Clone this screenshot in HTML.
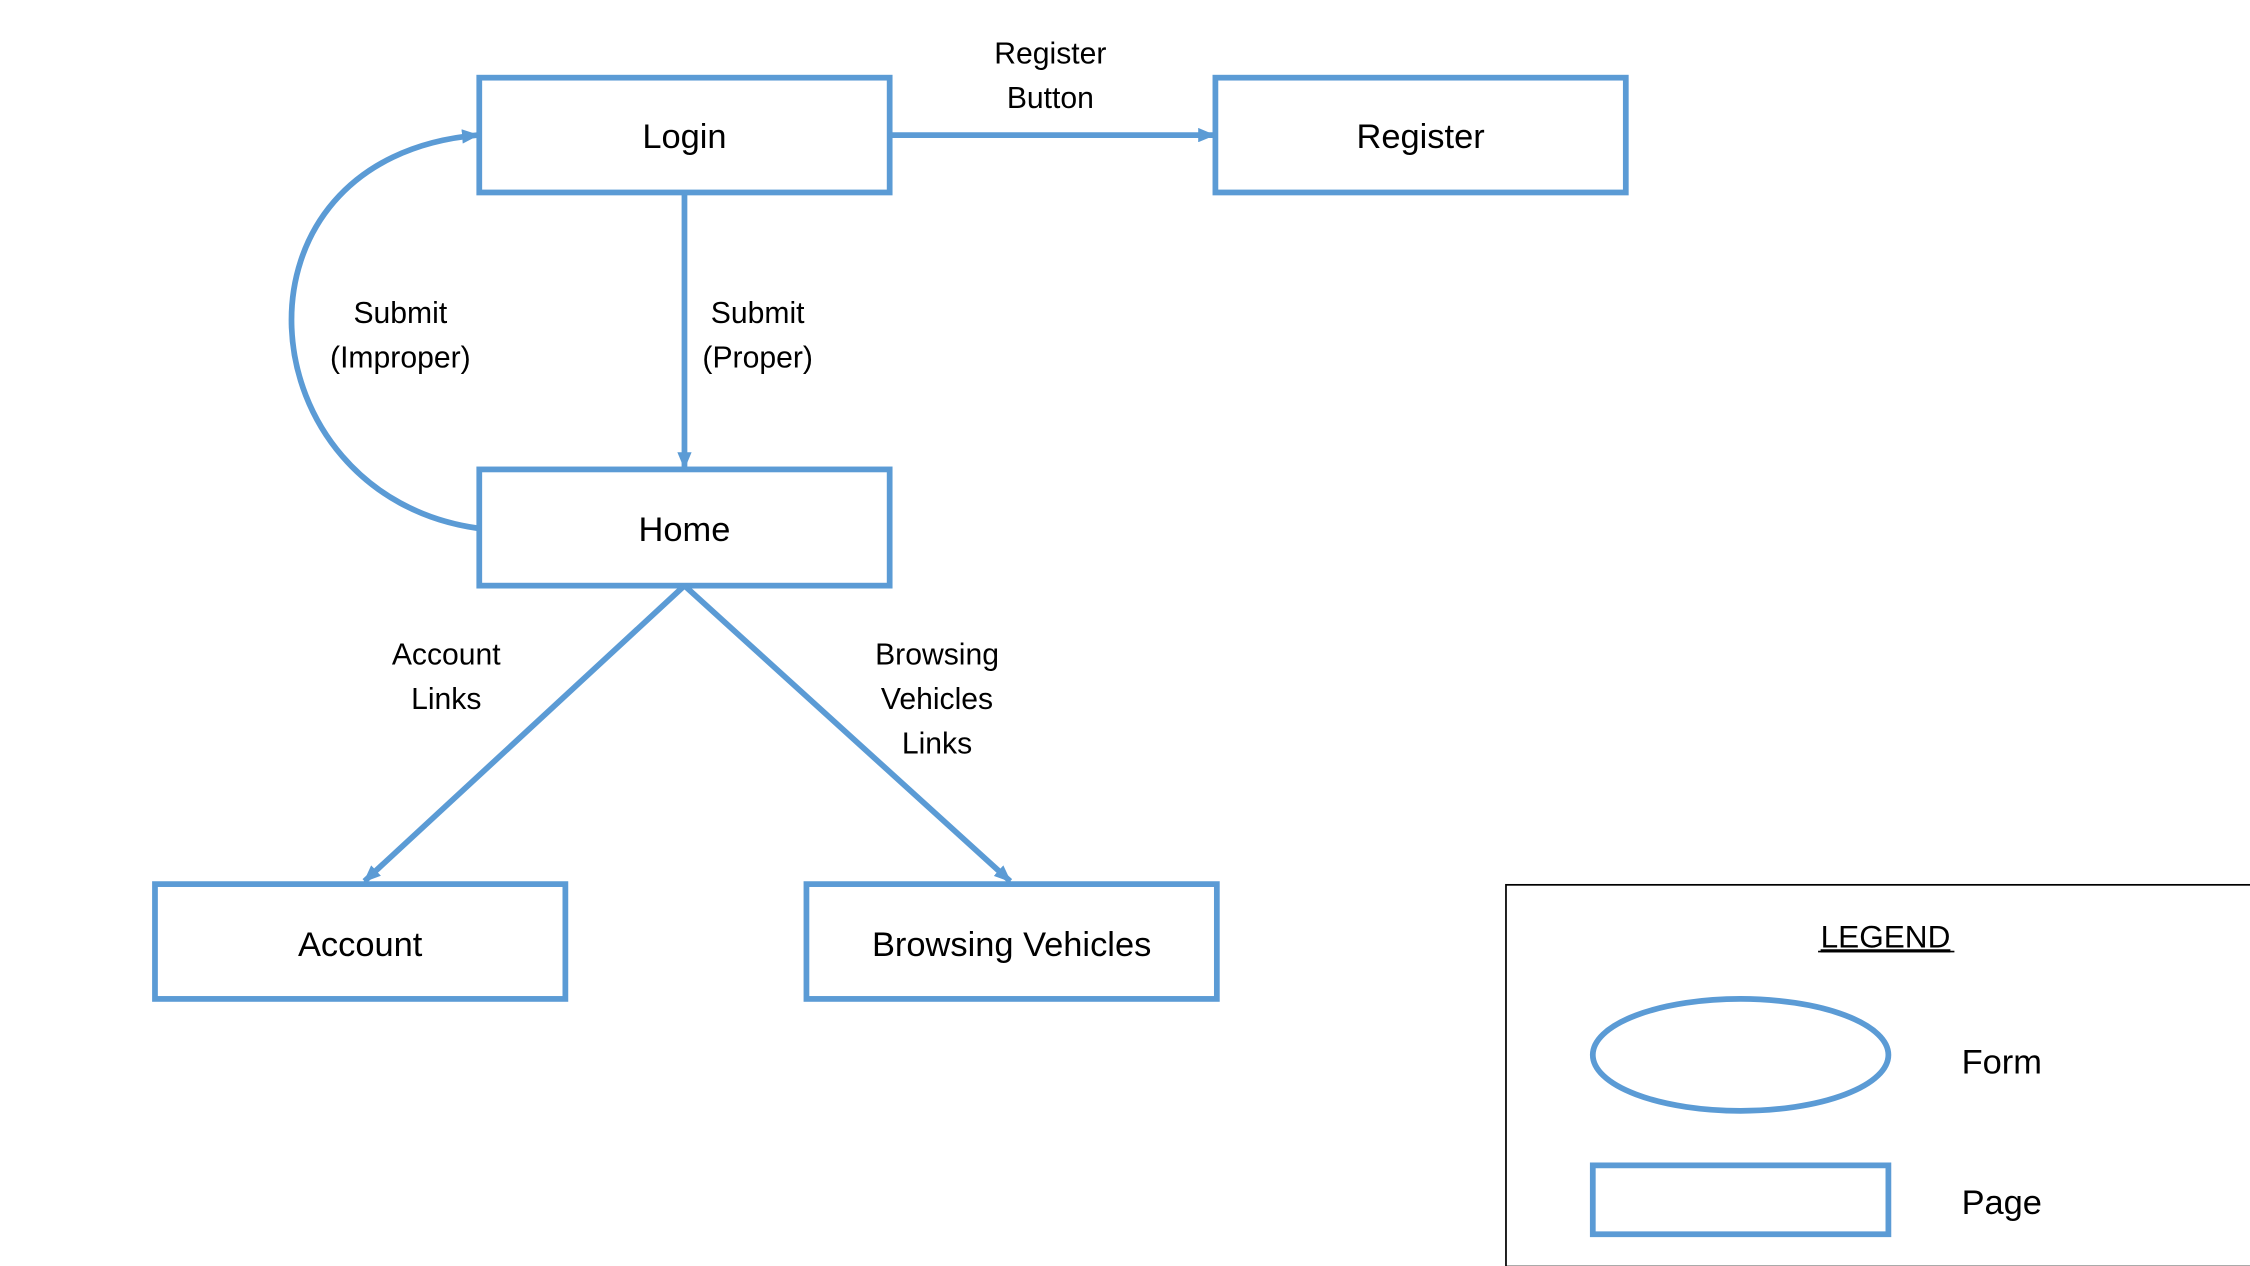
<!DOCTYPE html>
<html><head><meta charset="utf-8"><style>
html,body{margin:0;padding:0;background:#fff;}
svg{display:block;}
text{font-family:"Liberation Sans",sans-serif;fill:#000;}
</style></head><body>
<svg width="2250" height="1266" viewBox="0 0 1568 882" xmlns="http://www.w3.org/2000/svg">
<defs>
<marker id="a" markerWidth="12" markerHeight="10" refX="11" refY="5" orient="auto" markerUnits="userSpaceOnUse">
<path d="M0,0 L12,5 L0,10 Z" fill="#5B9BD5"/>
</marker>
</defs>
<rect width="1568" height="882" fill="#fff"/>
<g fill="none" stroke="#5B9BD5" stroke-width="4">
<rect x="334" y="54" width="286" height="80"/>
<rect x="847" y="54" width="286" height="80"/>
<rect x="334" y="327" width="286" height="81"/>
<rect x="108" y="616" width="286" height="80"/>
<rect x="562" y="616" width="286" height="80"/>
<line x1="620" y1="94" x2="846" y2="94" marker-end="url(#a)"/>
<line x1="477" y1="134" x2="477" y2="326" marker-end="url(#a)"/>
<line x1="477" y1="408" x2="254" y2="614" marker-end="url(#a)"/>
<line x1="477" y1="408" x2="704" y2="614" marker-end="url(#a)"/>
<path d="M333,368 C170,345 150,110 333,94" marker-end="url(#a)"/>
<ellipse cx="1213" cy="735" rx="103" ry="39"/>
<rect x="1110" y="812" width="206" height="48"/>
</g>
<rect x="1049.5" y="616.5" width="520" height="266" fill="none" stroke="#000" stroke-width="1.2"/>
<g font-size="24" text-anchor="middle">
<text x="477" y="103">Login</text>
<text x="990" y="103">Register</text>
<text x="477" y="377">Home</text>
<text x="251" y="666">Account</text>
<text x="705" y="666">Browsing Vehicles</text>
</g>
<g font-size="21" text-anchor="middle">
<text x="732" y="44">Register</text>
<text x="732" y="75">Button</text>
<text x="528" y="225">Submit</text>
<text x="528" y="256">(Proper)</text>
<text x="279" y="225">Submit</text>
<text x="279" y="256">(Improper)</text>
<text x="311" y="463">Account</text>
<text x="311" y="494">Links</text>
<text x="653" y="463">Browsing</text>
<text x="653" y="494">Vehicles</text>
<text x="653" y="525">Links</text>
<text x="1314" y="660" font-size="22" text-decoration="underline">LEGEND</text>
</g>
<g font-size="24">
<text x="1367" y="748">Form</text>
<text x="1367" y="846">Page</text>
</g>
<line x1="1267" y1="663" x2="1362" y2="663" stroke="#000" stroke-width="1.2"/>
</svg>
</body></html>
